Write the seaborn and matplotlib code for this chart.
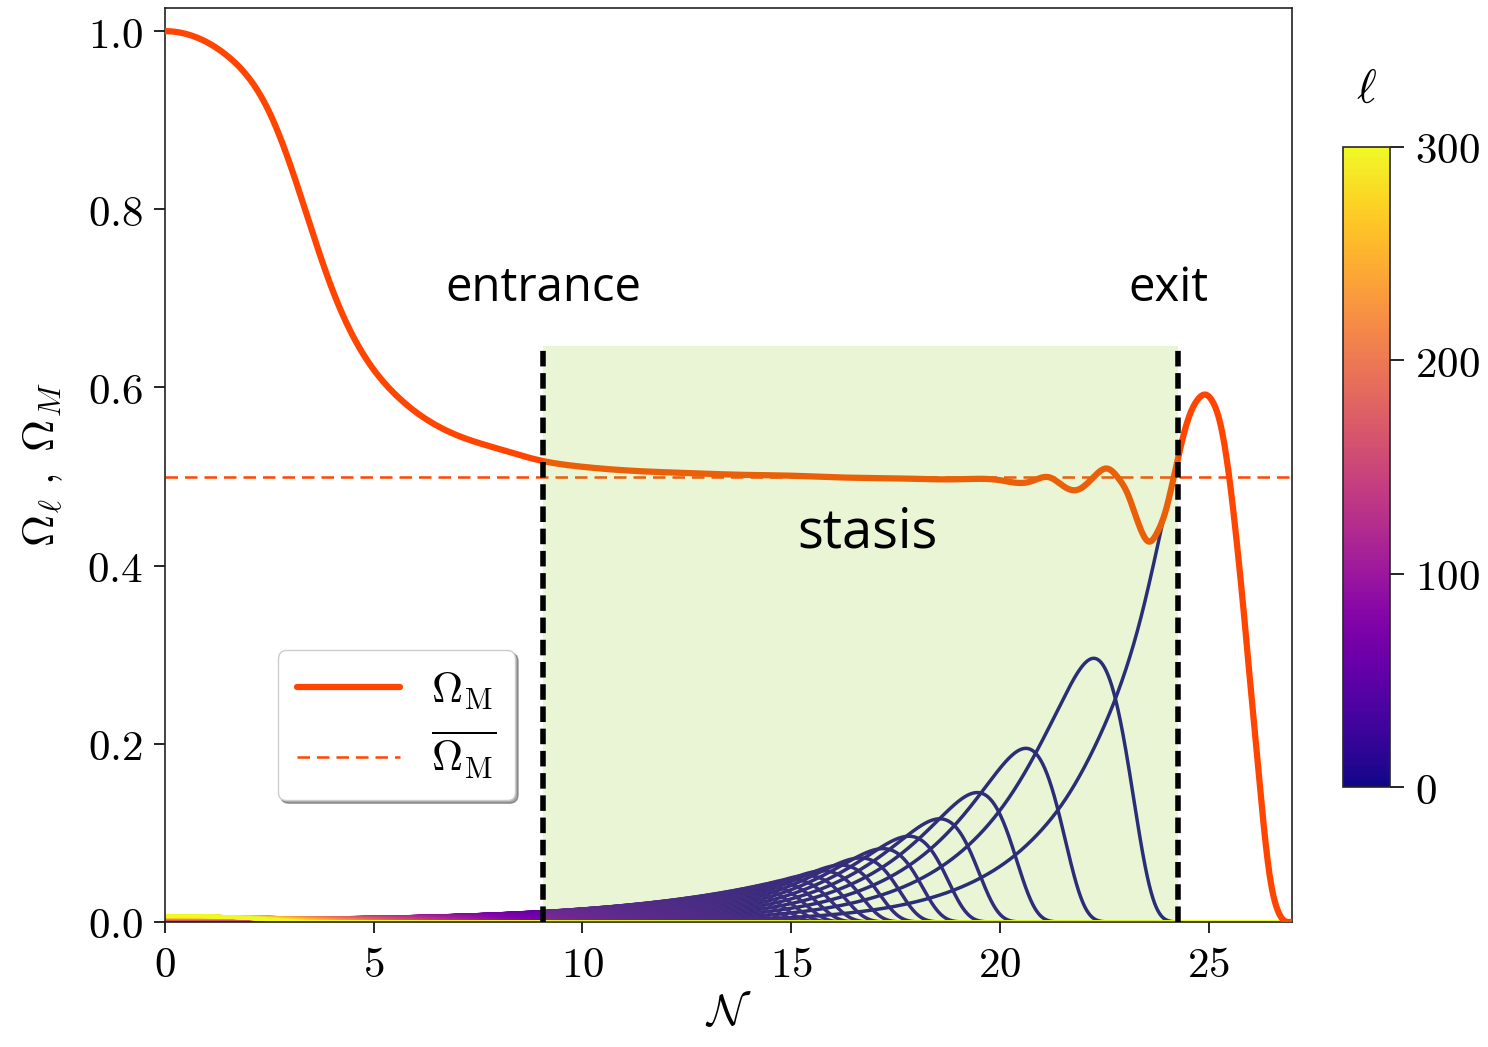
import numpy as np
import pandas as pd
import matplotlib
matplotlib.use('Agg')
import matplotlib.pyplot as plt
import seaborn as sns
from matplotlib.lines import Line2D
from matplotlib.ticker import FuncFormatter

# Omega_M
N_M = [0.0, 0.7, 1.5, 2.0, 2.5, 3.0, 3.5, 4.0, 4.5, 5.0, 5.5, 6.27, 7.07,
       8.0, 9.0, 10.0, 11.4, 12.5, 13.8, 15.0, 16.2, 17.5, 19.0, 20.0, 20.7,
       21.2, 21.5, 21.85, 22.26, 22.57, 22.86, 23.05, 23.21, 23.4, 23.57,
       23.78, 23.97, 24.17, 24.3, 24.45, 24.6, 24.75, 24.93, 25.1, 25.29,
       25.48, 25.68, 25.85, 26.01, 26.17, 26.33, 26.49, 26.65, 26.8, 27.0]
OMEGA_M = [1.0, 0.994, 0.972, 0.948, 0.909, 0.850, 0.779, 0.711, 0.658, 0.620,
           0.593, 0.564, 0.545, 0.531, 0.518, 0.511, 0.506, 0.504, 0.502, 0.501,
           0.499, 0.498, 0.497, 0.496, 0.494, 0.499, 0.490, 0.485, 0.500, 0.509,
           0.497, 0.482, 0.462, 0.438, 0.427, 0.438, 0.461, 0.500, 0.527, 0.555,
           0.575, 0.587, 0.592, 0.584, 0.558, 0.505, 0.425, 0.345, 0.263, 0.184,
           0.105, 0.045, 0.014, 0.002, 0.0]
OMEGA_M_BAR = 0.5

# peaks of the two last components (ell = 0 and ell = 1)
N_PEAK = [24.93, 22.25]
OMEGA_PEAK = [0.592, 0.296]
ELL_MAX = 300

# stasis window
N_ENTRANCE = 9.06
N_EXIT = 24.26
STASIS_TOP = 0.647

ORANGE = '#FF4500'


def spline(x, y, xn):
    # clamped cubic spline, flat at both ends
    x = np.asarray(x, float)
    y = np.asarray(y, float)
    h = np.diff(x)
    k = len(x)
    A = np.zeros((k, k))
    b = np.zeros(k)
    A[0, 0], A[0, 1] = 2 * h[0], h[0]
    b[0] = 6 * (y[1] - y[0]) / h[0]
    A[-1, -2], A[-1, -1] = h[-1], 2 * h[-1]
    b[-1] = -6 * (y[-1] - y[-2]) / h[-1]
    for i in range(1, k - 1):
        A[i, i - 1] = h[i - 1]
        A[i, i] = 2 * (h[i - 1] + h[i])
        A[i, i + 1] = h[i]
        b[i] = 6 * ((y[i + 1] - y[i]) / h[i] - (y[i] - y[i - 1]) / h[i - 1])
    M = np.linalg.solve(A, b)
    i = np.clip(np.searchsorted(x, xn, side='right') - 1, 0, k - 2)
    a = x[i + 1] - xn
    c = xn - x[i]
    hi = h[i]
    return (M[i] * a**3 / (6 * hi) + M[i + 1] * c**3 / (6 * hi)
            + (y[i] / hi - M[i] * hi / 6) * a + (y[i + 1] / hi - M[i + 1] * hi / 6) * c)


n = np.linspace(0, 27, 2701)
om = np.clip(spline(N_M, OMEGA_M, n), 0, 1)
dn = n[1] - n[0]


def cumtrapz(f):
    return np.concatenate([[0.0], np.cumsum((f[1:] + f[:-1]) / 2 * dn)])


# growth of each component relative to the total, and cosmic time
G = cumtrapz(1 - om)
invH = np.exp(1.5 * n + 0.5 * G)
t = 1 / 1.5 + cumtrapz(invH)

gam = [(1 - np.interp(p, n, om)) / np.interp(p, n, invH) for p in N_PEAK]
amp = [P / np.exp(np.interp(p, n, G) - g * np.interp(p, n, t))
       for P, p, g in zip(OMEGA_PEAK, N_PEAK, gam)]
g_exp = np.log(gam[1] / gam[0]) / np.log(2)
a_exp = np.log(amp[1] / amp[0]) / np.log(2)

ells = np.arange(ELL_MAX + 1)

sns.set_style('ticks')
plt.rcParams['mathtext.fontset'] = 'cm'
plt.rcParams['axes.linewidth'] = 1.2
for key in ['text.color', 'axes.labelcolor', 'xtick.color', 'ytick.color']:
    plt.rcParams[key] = 'black'

fig = plt.figure(figsize=(14.88, 10.47), dpi=100)
ax = fig.add_axes([165 / 1488, 1 - 922 / 1047, 1127 / 1488, 914 / 1047])
cax = fig.add_axes([1343 / 1488, 1 - 787 / 1047, 47 / 1488, 640 / 1047])

cmap = plt.get_cmap('plasma')
norm = matplotlib.colors.Normalize(0, ELL_MAX)
for ell in ells:
    lg = np.log(amp[0]) + a_exp * np.log(1 + ell) + G - gam[0] * (1 + ell)**g_exp * t
    # a single component can never exceed the total
    y = np.minimum(np.exp(lg), om)
    if ell == 0:
        # after the exit the lightest component is all the matter there is
        y = np.where(n > N_EXIT, om, y)
    ax.plot(n, y, color=cmap(norm(ell)), lw=2.5, zorder=2)

df = pd.DataFrame({'N': n, 'Omega_M': om})
sns.lineplot(data=df, x='N', y='Omega_M', color=ORANGE, lw=4.5, ax=ax, zorder=3)
ax.axhline(OMEGA_M_BAR, color=ORANGE, lw=1.8, dashes=(5, 2.8), zorder=2.5)

ax.fill_between([N_ENTRANCE, N_EXIT], 0, STASIS_TOP, color='yellowgreen',
                alpha=0.2, lw=0, zorder=4)
for x in [N_ENTRANCE, N_EXIT]:
    ax.plot([x, x], [0, STASIS_TOP], color='black', lw=4, dashes=(2.8, 1.2), zorder=5)

ax.text(N_ENTRANCE, 0.697, 'entrance', family='Open Sans', fontsize=34,
        ha='center', va='baseline', zorder=6)
ax.text(24.04, 0.697, 'exit', family='Open Sans', fontsize=34,
        ha='center', va='baseline', zorder=6)
ax.text(16.83, 0.42, 'stasis', family='Open Sans', fontsize=39,
        ha='center', va='baseline', zorder=6)

ax.set_xlim(0, 27)
ax.set_ylim(0, 1.026)
ax.set_xticks([0, 5, 10, 15, 20, 25])
ax.set_yticks([0, 0.2, 0.4, 0.6, 0.8, 1.0])
ax.xaxis.set_major_formatter(FuncFormatter(lambda v, p: f'${v:.0f}$'))
ax.yaxis.set_major_formatter(FuncFormatter(lambda v, p: f'${v:.1f}$'))
ax.tick_params(labelsize=31, length=8, width=1.2, direction='out', pad=8)
for s in ax.spines.values():
    s.set_color('#222222')

ax.set_xlabel(r'$\mathcal{N}$', fontsize=32)
ax.set_ylabel(r'$\Omega_\ell\ ,\ \Omega_M$', fontsize=32)
ax.xaxis.set_label_coords(0.5, -0.075)
ax.yaxis.set_label_coords(-0.089, 0.5)

handles = [Line2D([], [], color=ORANGE, lw=4.5),
           Line2D([], [], color=ORANGE, lw=1.8, dashes=(5, 2.8))]
labels = [r'$\Omega_{\rm M}$', r'$\overline{\Omega_{\rm M}}$']
leg = ax.legend(handles, labels, loc='lower left', bbox_to_anchor=(0.1, 0.133),
                borderaxespad=0, fontsize=31, frameon=True, fancybox=True,
                shadow=True, framealpha=1, handlelength=2.4, handletextpad=0.7,
                labelspacing=0.4, borderpad=0.45)
leg.get_frame().set_edgecolor('#cccccc')
leg.set_zorder(7)

sm = matplotlib.cm.ScalarMappable(norm=norm, cmap=cmap)
cb = fig.colorbar(sm, cax=cax, ticks=[0, 100, 200, 300])
cb.ax.set_yticklabels(['$0$', '$100$', '$200$', '$300$'])
cb.ax.tick_params(labelsize=31, length=10, width=1.2, pad=8)
cb.outline.set_linewidth(1.2)
fig.text(1366 / 1488, 1 - 90 / 1047, r'$\ell$', fontsize=34, ha='center', va='center')

fig.savefig('out.png', dpi=100)
